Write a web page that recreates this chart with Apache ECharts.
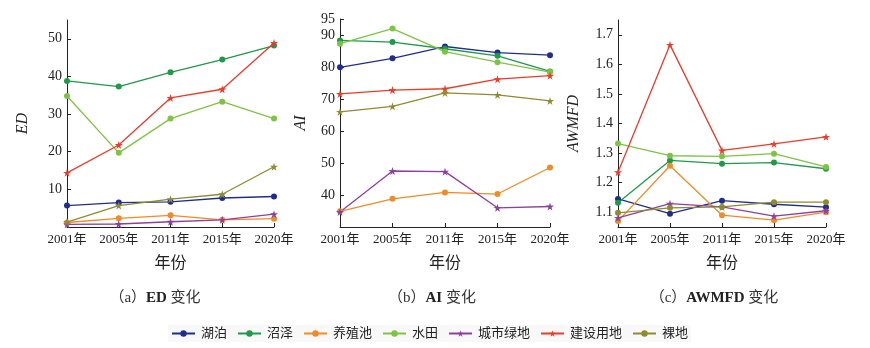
<!DOCTYPE html>
<html>
<head>
<meta charset="utf-8">
<script src="https://cdn.jsdelivr.net/npm/echarts@6/dist/echarts.min.js"></script>
<style>
  html, body { margin: 0; padding: 0; background: #ffffff; }
  #chart { width: 870px; height: 348px; }
</style>
</head>
<body>
<div id="chart"></div>
<script>
// Landscape metrics per land-use type, 2001–2020
const years = ['2001年', '2005年', '2011年', '2015年', '2020年'];
const landTypes = ['湖泊', '沼泽', '养殖池', '水田', '城市绿地', '建设用地', '裸地'];
const typeColors = ['#1f2e8e', '#1f9a49', '#f28a26', '#7dc443', '#8f3fa2', '#ec3b28', '#8e8c2c'];

// ED (edge density)
const edLake  = [5.7, 6.5, 6.7, 7.7, 8.1];
const edMarsh = [38.8, 37.3, 41.1, 44.5, 48.2];
const edPond  = [1.2, 2.3, 3.1, 1.9, 2.2];
const edPaddy = [34.8, 19.7, 28.8, 33.3, 28.8];
const edGreen = [0.7, 0.8, 1.4, 1.9, 3.4];
const edBuilt = [14.4, 21.8, 34.3, 36.6, 48.9];
const edBare  = [1.3, 5.7, 7.4, 8.7, 16.0];

// AI (aggregation index)
const aiLake  = [79.9, 82.7, 86.4, 84.5, 83.7];
const aiMarsh = [88.3, 87.8, 85.7, 83.5, 78.6];
const aiPond  = [34.9, 38.8, 40.8, 40.3, 48.6];
const aiPaddy = [87.3, 92.0, 84.8, 81.5, 78.4];
const aiGreen = [34.7, 47.5, 47.3, 36.0, 36.4];
const aiBuilt = [71.6, 72.8, 73.2, 76.2, 77.3];
const aiBare  = [66.0, 67.7, 71.9, 71.3, 69.4];

// AWMFD (area-weighted mean fractal dimension)
const awLake  = [1.145, 1.095, 1.139, 1.127, 1.117];
const awMarsh = [1.132, 1.275, 1.264, 1.268, 1.247];
const awPond  = [1.070, 1.257, 1.090, 1.073, 1.100];
const awPaddy = [1.332, 1.291, 1.289, 1.298, 1.253];
const awGreen = [1.081, 1.129, 1.118, 1.087, 1.105];
const awBuilt = [1.235, 1.666, 1.309, 1.331, 1.355];
const awBare  = [1.098, 1.115, 1.118, 1.134, 1.134];

// Tick labels on each value axis
const edTicks = [10, 20, 30, 40, 50];
const aiTicks = [40, 50, 60, 70, 80, 90, 95];
const awTicks = [1.1, 1.2, 1.3, 1.4, 1.5, 1.6, 1.7];

const edSeries = [edLake, edMarsh, edPond, edPaddy, edGreen, edBuilt, edBare];
const aiSeries = [aiLake, aiMarsh, aiPond, aiPaddy, aiGreen, aiBuilt, aiBare];
const awSeries = [awLake, awMarsh, awPond, awPaddy, awGreen, awBuilt, awBare];

const serif = '"Liberation Serif", "Noto Sans CJK SC", serif';
const cjk = '"Liberation Serif", "Noto Sans CJK SC", sans-serif';
const STAR = 'path://M50,0 L61,35 L98,35 L68,57 L79,91 L50,70 L21,91 L32,57 L2,35 L39,35 Z';

const grids = [
  { left: 67, top: 20, width: 207, height: 207 },
  { left: 340, top: 19, width: 210, height: 208 },
  { left: 618, top: 20, width: 208, height: 207 }
];

function xAxisFor(i) {
  return {
    type: 'category', gridIndex: i, data: years, boundaryGap: false,
    name: '年份', nameLocation: 'middle', nameGap: 29,
    nameTextStyle: { fontFamily: cjk, fontSize: 16, color: '#222' },
    axisLine: { lineStyle: { color: '#222', width: 1 } },
    axisTick: { inside: true, length: 4, lineStyle: { color: '#222' } },
    axisLabel: { fontFamily: cjk, fontSize: 13, color: '#222', margin: 6, interval: 0 },
    splitLine: { show: false }
  };
}

function yAxisFor(i, name, min, max, ticks, gap, fmt) {
  return {
    type: 'value', gridIndex: i, min: min, max: max,
    name: name, nameLocation: 'middle', nameGap: gap,
    nameTextStyle: { fontFamily: serif, fontStyle: 'italic', fontSize: 16, color: '#222' },
    axisLine: { show: true, lineStyle: { color: '#222', width: 1 } },
    axisTick: { show: true, inside: true, length: 4, customValues: ticks, lineStyle: { color: '#222' } },
    axisLabel: { customValues: ticks, fontFamily: serif, fontSize: 14, color: '#222', margin: 5, formatter: fmt },
    splitLine: { show: false }
  };
}

// Bare land is drawn with stars in ED/AI and circles in AWMFD
const symbolsA = ['circle', 'circle', 'circle', 'circle', STAR, STAR, STAR];
const symbolsC = ['circle', 'circle', 'circle', 'circle', STAR, STAR, 'circle'];

function buildSeries(gridIdx, valueSets, symbols) {
  return landTypes.map((name, k) => ({
    name: name, type: 'line', xAxisIndex: gridIdx, yAxisIndex: gridIdx,
    data: valueSets[k],
    symbol: symbols[k],
    symbolSize: symbols[k] === STAR ? 8 : 6,
    showAllSymbol: true,
    lineStyle: { color: typeColors[k], width: 1.3 },
    itemStyle: { color: typeColors[k] },
    emphasis: { disabled: true },
    animation: false
  }));
}

// AWMFD series go first so the legend takes its markers from them
const series = [].concat(
  buildSeries(2, awSeries, symbolsC),
  buildSeries(0, edSeries, symbolsA),
  buildSeries(1, aiSeries, symbolsA)
);

function caption(x, label, metric) {
  return {
    type: 'text', x: x, y: 298,
    style: {
      text: '（' + label + '）{m|' + metric + '} 变化',
      fontFamily: cjk, fontSize: 15, fill: '#333', align: 'center', verticalAlign: 'middle',
      rich: { m: { fontFamily: '"Liberation Serif", serif', fontWeight: 'bold', fontSize: 15, fill: '#222' } }
    }
  };
}

const chart = echarts.init(document.getElementById('chart'), null, { renderer: 'canvas' });
chart.setOption({
  backgroundColor: '#ffffff',
  animation: false,
  grid: grids,
  xAxis: [xAxisFor(0), xAxisFor(1), xAxisFor(2)],
  yAxis: [
    yAxisFor(0, 'ED', 0, 55, edTicks, 36, v => String(v)),
    yAxisFor(1, 'AI', 30, 95, aiTicks, 31, v => String(v)),
    yAxisFor(2, 'AWMFD', 1.05, 1.75, awTicks, 36, v => v.toFixed(1))
  ],
  legend: {
    data: landTypes,
    left: 168, top: 325,
    itemWidth: 23, itemHeight: 8, itemGap: 10,
    backgroundColor: '#f8f8f8', padding: [2, 3],
    textStyle: { fontFamily: cjk, fontSize: 13, color: '#222', padding: [0, 0, 0, 1] }
  },
  graphic: [
    caption(155, 'a', 'ED'),
    caption(432, 'b', 'AI'),
    caption(714, 'c', 'AWMFD')
  ],
  series: series
});
</script>
</body>
</html>
